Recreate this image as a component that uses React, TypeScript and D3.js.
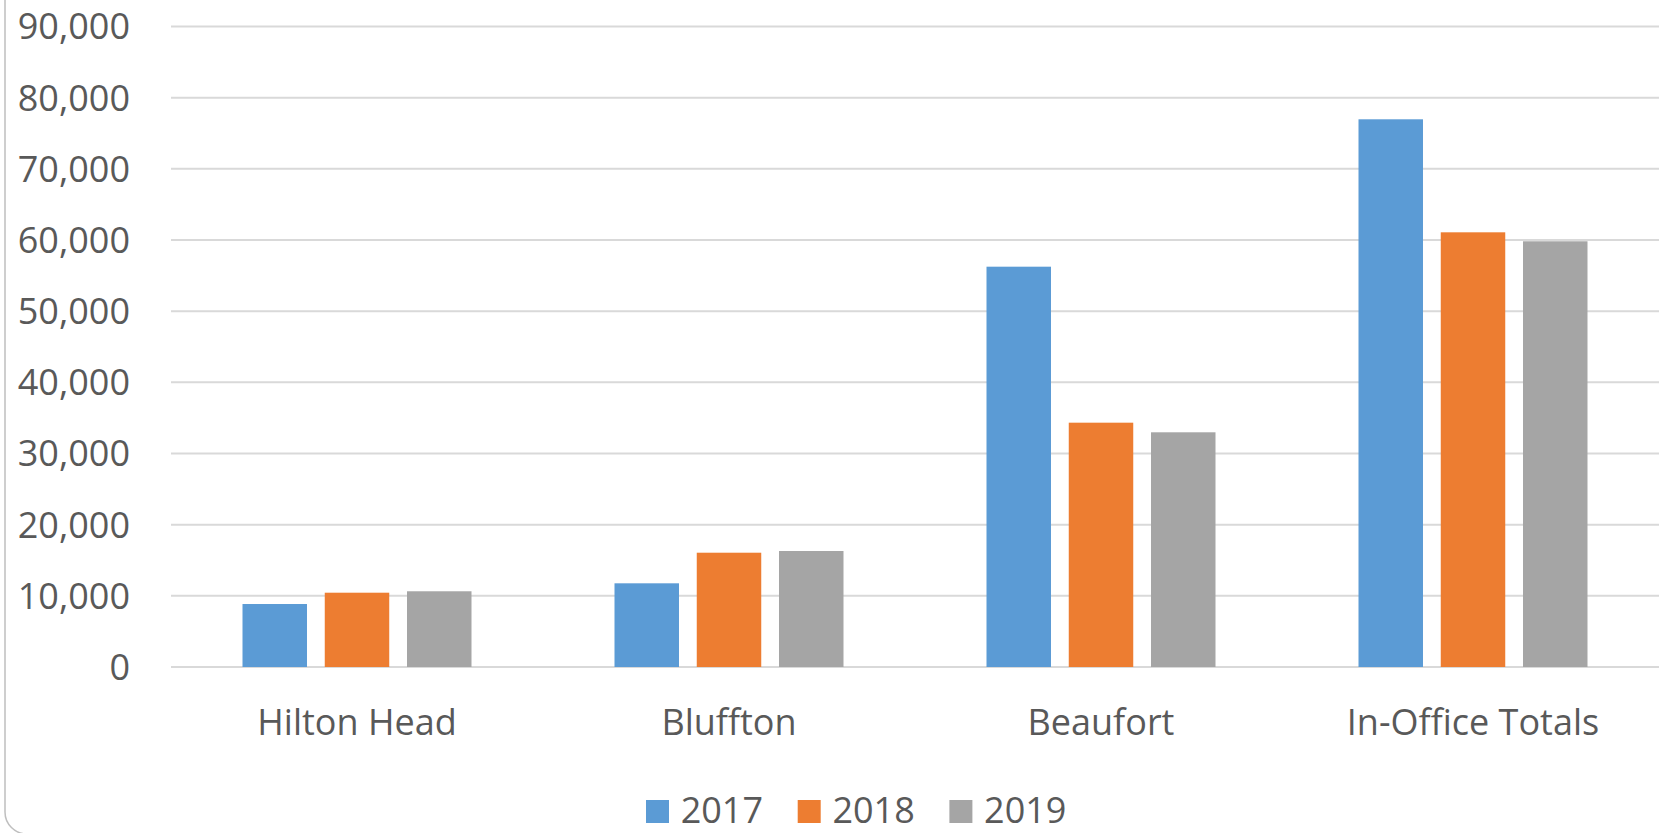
import React, { useEffect } from "react";
import * as d3 from "d3";

const categories = ["Hilton Head", "Bluffton", "Beaufort", "In-Office Totals"];
const seriesNames = ["2017", "2018", "2019"];
const values2017 = [8850, 11760, 56250, 76960];
const values2018 = [10440, 16060, 34330, 61080];
const values2019 = [10640, 16300, 32980, 59820];
const seriesColors = ["#5b9bd5", "#ed7d31", "#a5a5a5"];
const yTicks = [0, 10000, 20000, 30000, 40000, 50000, 60000, 70000, 80000, 90000];

const W = 1663;
const H = 833;
const FONT = "'Open Sans', 'Noto Sans', sans-serif";
const TEXT = "#595959";

export default function App() {
  useEffect(() => {
    document.body.style.margin = "0";
    document.body.style.overflow = "hidden";
  }, []);

  const seriesValues = [values2017, values2018, values2019];
  const x0 = d3.scaleBand<string>().domain(categories).range([171, 1659]).padding(0);
  const groupW = 229;
  const x1 = d3
    .scaleBand<string>()
    .domain(seriesNames)
    .range([-groupW / 2, groupW / 2])
    .paddingInner(0.216)
    .paddingOuter(0);
  const y = d3.scaleLinear().domain([0, 90000]).range([667, 26.5]);
  const fmt = d3.format(",");

  const legendX = d3.scaleBand<string>().domain(seriesNames).range([646, 646 + 3 * 151.7]);

  return (
    <svg
      width={W}
      height={H}
      style={{ position: "absolute", left: 0, top: 0, display: "block", background: "#fff" }}
      fontFamily={FONT}
    >
      <rect x={0} y={0} width={W} height={H} fill="#fff" />
      {/* chart frame */}
      <rect x={5} y={-40} width={W + 40} height={874} rx={22} ry={22} fill="none" stroke="#bfbfbf" strokeWidth={1.5} />
      {/* gridlines */}
      {yTicks.map((t) => (
        <line key={t} x1={171} x2={1659} y1={y(t)} y2={y(t)} stroke="#d9d9d9" strokeWidth={2} />
      ))}
      {/* y labels */}
      {yTicks.map((t) => (
        <text key={"l" + t} x={130} y={y(t)} dy="0.36em" textAnchor="end" fontSize={36} fill={TEXT}>
          {fmt(t)}
        </text>
      ))}
      {/* bars */}
      {categories.map((c, ci) => (
        <g key={c} transform={`translate(${(x0(c) ?? 0) + x0.bandwidth() / 2},0)`}>
          {seriesNames.map((s, si) => {
            const v = seriesValues[si][ci];
            return (
              <rect
                key={s}
                x={x1(s)}
                y={y(v)}
                width={x1.bandwidth()}
                height={y(0) - y(v)}
                fill={seriesColors[si]}
              />
            );
          })}
        </g>
      ))}
      {/* x labels */}
      {categories.map((c) => (
        <text
          key={"x" + c}
          x={(x0(c) ?? 0) + x0.bandwidth() / 2}
          y={735}
          textAnchor="middle"
          fontSize={36}
          fill={TEXT}
        >
          {c}
        </text>
      ))}
      {/* legend */}
      {seriesNames.map((s, si) => {
        const lx = legendX(s) ?? 0;
        return (
          <g key={"lg" + s}>
            <rect x={lx} y={800} width={23} height={23} fill={seriesColors[si]} />
            <text x={lx + 34.7} y={823} fontSize={36} fill={TEXT}>
              {s}
            </text>
          </g>
        );
      })}
    </svg>
  );
}
